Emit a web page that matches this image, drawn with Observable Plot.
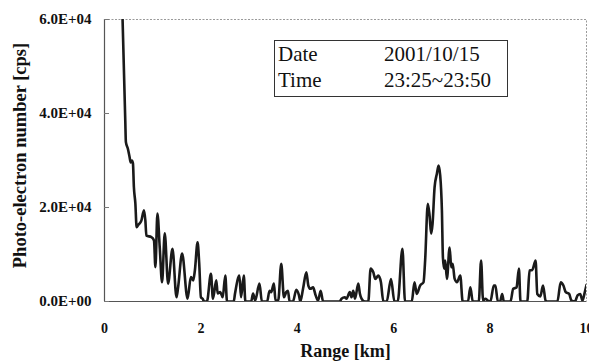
<!DOCTYPE html>
<html>
<head>
<meta charset="utf-8">
<script src="https://cdn.jsdelivr.net/npm/d3@7"></script>
<script src="https://cdn.jsdelivr.net/npm/@observablehq/plot@0.6"></script>
<style>
  html, body { margin: 0; padding: 0; background: #fff; }
  #wrap { position: relative; width: 589px; height: 362px; overflow: hidden; }
  #legend { position: absolute; left: 274px; top: 40px; width: 232px; height: 55px;
    border: 1px solid #333; font-family: "Liberation Serif", serif; font-size: 21px; color: #111; }
  #legend div { position: absolute; white-space: nowrap; }
</style>
</head>
<body>
<div id="wrap">
  <div id="chart"></div>
  <div id="legend">
    <div style="left:3px; top:1px;">Date</div>
    <div style="left:109px; top:1px;">2001/10/15</div>
    <div style="left:3px; top:27px;">Time</div>
    <div style="left:109px; top:27px;">23:25~23:50</div>
  </div>
</div>
<script>
const rangeKm = [0.375,0.431,0.444,0.485,0.521,0.542,0.569,0.590,0.610,0.640,0.667,0.694,0.765,0.819,0.848,0.869,0.973,1.027,1.056,1.098,1.146,1.194,1.25,1.319,1.410,1.494,1.527,1.610,1.723,1.792,1.840,1.875,1.931,1.965,2.0,2.035,2.069,2.125,2.208,2.25,2.319,2.348,2.402,2.452,2.506,2.542,2.681,2.708,2.798,2.833,2.890,2.923,3.042,3.083,3.125,3.215,3.265,3.375,3.423,3.458,3.515,3.548,3.604,3.667,3.723,3.771,3.806,3.840,3.910,3.979,4.035,4.063,4.119,4.188,4.229,4.271,4.327,4.381,4.431,4.485,4.535,4.881,4.917,4.985,5.021,5.090,5.125,5.160,5.198,5.265,5.298,5.333,5.402,5.473,5.521,5.577,5.619,5.681,5.735,5.785,5.854,5.944,6.015,6.083,6.181,6.235,6.375,6.431,6.479,6.548,6.619,6.652,6.708,6.744,6.777,6.806,6.848,6.896,6.931,6.965,7.0,7.021,7.048,7.069,7.104,7.160,7.194,7.223,7.265,7.313,7.381,7.431,7.542,7.590,7.640,7.765,7.813,7.854,7.902,7.952,8.006,8.077,8.110,8.160,8.208,8.25,8.285,8.423,8.479,8.548,8.598,8.631,8.771,8.819,8.875,8.944,8.979,9.042,9.098,9.152,9.188,9.396,9.465,9.521,9.569,9.640,9.688,9.759,9.815,9.869,9.917,9.965,10.0];
const photoCps = [60000,38500,33900,32500,30700,29600,30000,29400,24300,20900,15800,16200,17200,19400,17200,14000,13700,13000,7300,18700,11500,4100,14500,3800,11200,900,3000,10200,600,5200,4500,6600,12600,8100,900,600,0,0,5900,600,4500,1700,2000,900,5500,0,0,1700,5500,900,5500,0,0,1700,200,3800,0,0,2300,2000,3800,200,200,8000,900,2000,2300,0,0,2500,1300,0,2700,6200,3400,2700,3000,1300,200,2300,0,0,600,900,600,2000,900,2300,600,3800,1700,600,0,0,7000,6200,4800,5500,4100,0,0,4800,0,0,11200,0,0,4100,1600,3400,4100,8700,20800,18300,14400,16500,24300,27200,28900,26800,19400,9400,7000,8700,4800,11500,7300,8000,4800,4100,5500,0,0,3000,0,0,8700,200,600,200,0,3400,3400,0,0,1600,0,0,2700,3000,7000,0,0,6600,6700,8700,1600,1100,3400,200,0,0,4100,3400,2000,1600,200,0,1300,1600,200,2000,3500];
const xTicks = [0, 2, 4, 6, 8, 10];
const yTicks = [0, 20000, 40000, 60000];
const yTickLabels = ["0.0E+00", "2.0E+04", "4.0E+04", "6.0E+04"];
const xTitle = "Range [km]";
const yTitle = "Photo-electron number [cps]";

const data = rangeKm.map((r, i) => ({r, v: photoCps[i]}));
const serif = "Liberation Serif, Times New Roman, serif";

const chart = Plot.plot({
  width: 589,
  height: 362,
  marginLeft: 104,
  marginRight: 3,
  marginTop: 19,
  marginBottom: 61,
  style: {fontFamily: serif, background: "#fff", overflow: "visible"},
  x: {domain: [0, 10]},
  y: {domain: [0, 60000]},
  marks: [
    Plot.frame({stroke: "#999", strokeDasharray: "2,1.5", strokeWidth: 1}),
    Plot.line(data, {x: "r", y: "v", curve: "monotone-x", stroke: "#1a1a1a", strokeWidth: 2.6, clip: true}),
    Plot.ruleX([0], {stroke: "#555", strokeWidth: 1.2}),
    Plot.ruleY([0], {stroke: "#555", strokeWidth: 1.2}),
    Plot.axisX({ticks: xTicks, tickSize: 0, tickPadding: 22, label: null,
      fontSize: 14, fontWeight: "bold", fill: "#111"}),
    Plot.axisY({ticks: yTicks, tickSize: -5, tickPadding: 18, label: null,
      tickFormat: (d) => yTickLabels[yTicks.indexOf(d)],
      fontSize: 15, fontWeight: "bold", fill: "#111", stroke: "#777"}),
    Plot.text([xTitle], {frameAnchor: "bottom", dy: 55, fontSize: 18, fontWeight: "bold", fill: "#111"}),
    Plot.text([yTitle], {frameAnchor: "left", textAnchor: "middle", rotate: -90, dx: -84, dy: -5, fontSize: 18.5, fontWeight: "bold", fill: "#111"})
  ]
});
document.getElementById("chart").appendChild(chart);
</script>
</body>
</html>
